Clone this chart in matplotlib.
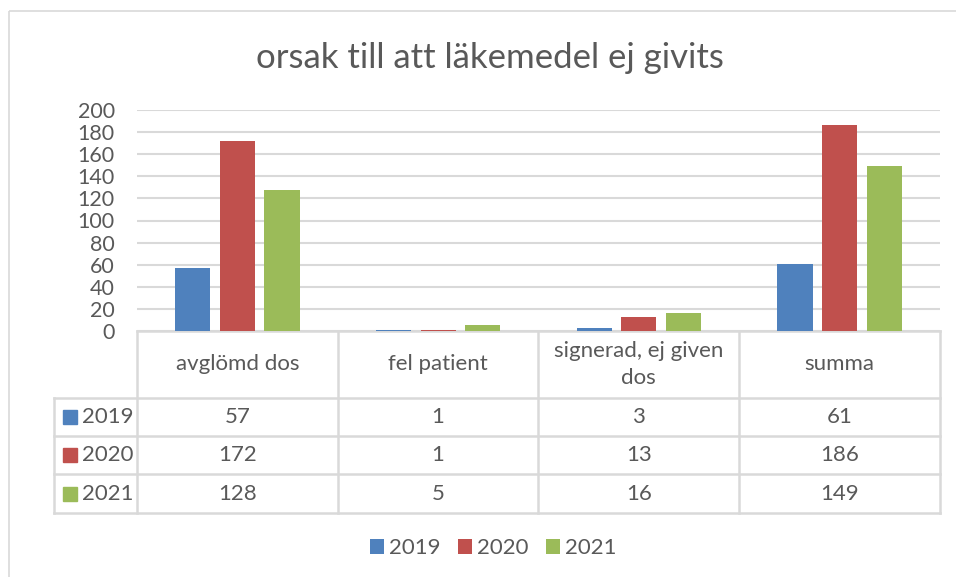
import numpy as np
import matplotlib.pyplot as plt
from matplotlib.patches import Rectangle

plt.rcParams['font.family'] = ['Lato', 'DejaVu Sans']

categories = ['avglömd dos', 'fel patient', 'signerad, ej given\ndos', 'summa']
years = ['2019', '2020', '2021']
v2019 = [57, 1, 3, 61]
v2020 = [172, 1, 13, 186]
v2021 = [128, 5, 16, 149]
series = [v2019, v2020, v2021]
colors = ['#4f81bd', '#c0504d', '#9bbb59']
txt = '#595959'
grid = '#d9d9d9'

W, H = 956, 577
fig = plt.figure(figsize=(W / 100, H / 100), dpi=100)

# overlay in pixel coords for border + data table
bg = fig.add_axes([0, 0, 1, 1])
bg.set_xlim(0, W)
bg.set_ylim(H, 0)
bg.axis('off')
bg.add_patch(Rectangle((9, 11), W + 10, H + 10, fill=False, ec=grid, lw=1.2))

# bar chart
left, right, y0, y200 = 137, 940, 331, 110
ax = fig.add_axes([left / W, (H - y0) / H, (right - left) / W, (y0 - y200) / H])
x = np.arange(len(categories))
width, step = 0.175, 0.222
for i, (vals, c, yr) in enumerate(zip(series, colors, years)):
    ax.bar(x + (i - 1) * step, vals, width, color=c, label=yr, zorder=3)
ax.set_xlim(-0.5, len(categories) - 0.5)
ax.set_ylim(0, 200)
ax.set_yticks(range(0, 201, 20))
ax.set_xticks([])
ax.grid(axis='y', color=grid, lw=1.5, zorder=0)
for s in ax.spines.values():
    s.set_visible(False)
ax.tick_params(axis='y', length=0, labelsize=15.5, labelcolor=txt, pad=16)

# data table
col_w = (right - left) / len(categories)
rows = [y0, 398, 436, 474, 513]
lab_left = 54
kw = dict(color=grid, lw=1.8, zorder=1)
bg.plot([left, right], [rows[0], rows[0]], **kw)
for yy in rows[1:]:
    bg.plot([lab_left, right], [yy, yy], **kw)
for j in range(len(categories) + 1):
    xx = left + j * col_w
    bg.plot([xx, xx], [rows[0], rows[-1]], **kw)
bg.plot([lab_left, lab_left], [rows[1], rows[-1]], **kw)

fs = 16
for j, cat in enumerate(categories):
    cx = left + (j + 0.5) * col_w
    bg.text(cx, (rows[0] + rows[1]) / 2, cat, ha='center', va='center',
            fontsize=fs, color=txt, linespacing=1.4)
for i, (vals, c, yr) in enumerate(zip(series, colors, years)):
    cy = (rows[i + 1] + rows[i + 2]) / 2
    bg.add_patch(Rectangle((63, cy - 7), 14, 14, color=c))
    bg.text(82, cy, yr, ha='left', va='center', fontsize=fs, color=txt)
    for j, v in enumerate(vals):
        bg.text(left + (j + 0.5) * col_w, cy, str(v), ha='center', va='center',
                fontsize=fs, color=txt)

fig.text(490 / W, 1 - 58 / H, 'orsak till att läkemedel ej givits', ha='center',
         va='center', fontsize=25, color=txt)

fig.legend(loc='center', bbox_to_anchor=(493 / W, 1 - 548 / H), ncol=3, frameon=False,
           fontsize=fs, labelcolor=txt, handlelength=0.65, handleheight=0.65,
           handletextpad=0.2, columnspacing=0.8)

fig.savefig('out.png', dpi=100)
